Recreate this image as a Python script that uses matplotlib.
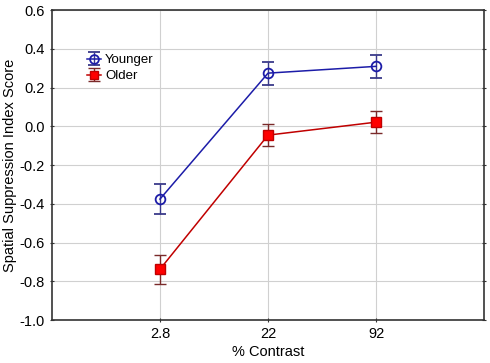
import matplotlib
matplotlib.use("Agg")
import matplotlib.pyplot as plt

plt.rcParams['font.family'] = ['Liberation Sans', 'DejaVu Sans']

categories = ["2.8", "22", "92"]
younger = [-0.375, 0.275, 0.31]
younger_err = [0.077, 0.06, 0.06]
older = [-0.737, -0.045, 0.022]
older_err = [0.075, 0.057, 0.057]
yticks = [0.6, 0.4, 0.2, 0.0, -0.2, -0.4, -0.6, -0.8, -1.0]

fig = plt.figure(figsize=(4.9, 3.63), dpi=100)
ax = fig.add_axes([0.106, 0.118, 0.882, 0.854])

x = list(range(1, len(categories) + 1))
ax.errorbar(x, younger, yerr=younger_err, color='#1c1ca8', marker='o', ms=7,
            mfc='none', mec='#1c1ca8', mew=1.3, lw=1.1, capsize=4, elinewidth=1,
            ecolor='#3a3a8a', label='Younger', zorder=3)
ax.errorbar(x, older, yerr=older_err, color='#c00000', marker='s', ms=7,
            mfc='#ff0000', mec='#c00000', mew=1, lw=1.1, capsize=4, elinewidth=1,
            ecolor='#7a2a2a', label='Older', zorder=3)

ax.set_xlim(0, 4)
ax.set_ylim(-1.0, 0.6)
ax.set_xticks(x)
ax.set_xticklabels(categories)
ax.set_yticks(yticks)
ax.set_yticklabels([f"{v:.1f}" for v in yticks])
ax.grid(True, color='#d0d0d0', lw=0.8)
ax.set_axisbelow(True)
for s in ax.spines.values():
    s.set_color('#333333')
    s.set_linewidth(1.2)
ax.tick_params(axis='both', labelsize=10.5, length=3, color='#333333')
ax.tick_params(axis='y', right=True, direction='inout')
ax.tick_params(axis='x', direction='inout')
ax.set_xlabel('% Contrast', fontsize=10.5, labelpad=3)
ax.set_ylabel('Spatial Suppression Index Score', fontsize=10.5, labelpad=2)

ax.legend(loc='upper left', bbox_to_anchor=(0.065, 0.88), frameon=False,
          fontsize=9.5, handlelength=1.1, handletextpad=0.3, borderpad=0,
          labelspacing=0.3, markerscale=0.9)

fig.savefig('out.png', dpi=100)
